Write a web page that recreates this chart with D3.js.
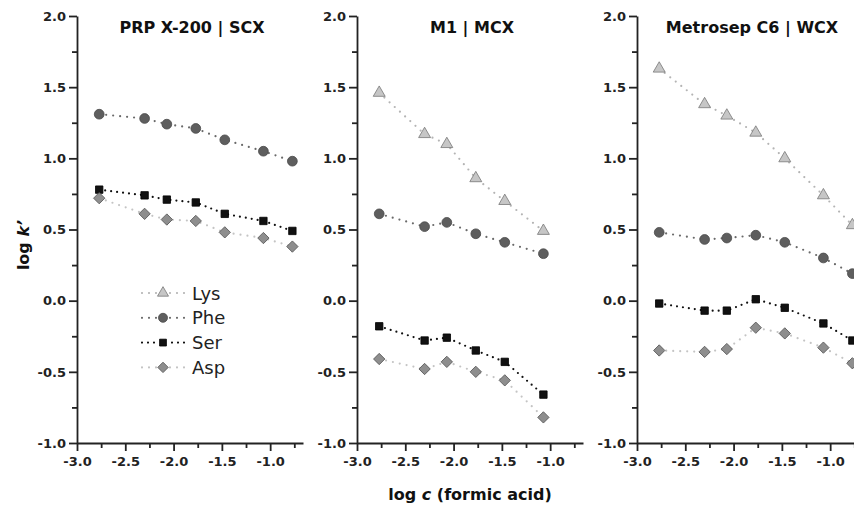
<!DOCTYPE html>
<html>
<head>
<meta charset="utf-8">
<script src="https://cdn.jsdelivr.net/npm/d3@7"></script>
<style>
  body { margin: 0; background: #fff; }
  svg { display: block; font-family: "DejaVu Sans", sans-serif; }
  .axis path, .axis line { stroke: #222; stroke-width: 1.8; }
</style>
</head>
<body>
<div id="chart"></div>
<script>
// DATA
const logC = [-2.77, -2.30, -2.07, -1.77, -1.47, -1.07, -0.77];
const panelTitles = ['PRP X-200 | SCX', 'M1 | MCX', 'Metrosep C6 | WCX'];
const analytes = ['Lys', 'Phe', 'Ser', 'Asp'];
const yTicks = [-1.0, -0.5, 0.0, 0.5, 1.0, 1.5, 2.0];
const xTicks = [-3.0, -2.5, -2.0, -1.5, -1.0];

// PRP X-200 | SCX  (Lys above the plotted range)
const lysSCX = [null, null, null, null, null, null, null];
const pheSCX = [1.31, 1.28, 1.24, 1.21, 1.13, 1.05, 0.98];
const serSCX = [0.78, 0.74, 0.71, 0.69, 0.61, 0.56, 0.49];
const aspSCX = [0.72, 0.61, 0.57, 0.56, 0.48, 0.44, 0.38];

// M1 | MCX
const lysMCX = [1.46, 1.17, 1.10, 0.86, 0.70, 0.49, null];
const pheMCX = [0.61, 0.52, 0.55, 0.47, 0.41, 0.33, null];
const serMCX = [-0.18, -0.28, -0.26, -0.35, -0.43, -0.66, null];
const aspMCX = [-0.41, -0.48, -0.43, -0.50, -0.56, -0.82, null];

// Metrosep C6 | WCX
const lysWCX = [1.63, 1.38, 1.30, 1.18, 1.00, 0.74, 0.53];
const pheWCX = [0.48, 0.43, 0.44, 0.46, 0.41, 0.30, 0.19];
const serWCX = [-0.02, -0.07, -0.07, 0.01, -0.05, -0.16, -0.28];
const aspWCX = [-0.35, -0.36, -0.34, -0.19, -0.23, -0.33, -0.44];

const panelSeries = [
  [lysSCX, pheSCX, serSCX, aspSCX],
  [lysMCX, pheMCX, serMCX, aspMCX],
  [lysWCX, pheWCX, serWCX, aspWCX]
];

// STYLES per analyte
const styles = {
  Lys: {symbol: d3.symbolTriangle, size: 62, rot: 0, fill: '#c6c6c6', stroke: '#777', line: '#b4b4b4', dash: '0,7'},
  Phe: {symbol: d3.symbolCircle, size: 75, rot: 0, fill: '#5e5e5e', stroke: '#4a4a4a', line: '#6a6a6a', dash: '0,7'},
  Ser: {symbol: d3.symbolSquare, size: 55, rot: 0, fill: '#111', stroke: '#000', line: '#111', dash: '0,6'},
  Asp: {symbol: d3.symbolSquare, size: 64, rot: 45, fill: '#8e8e8e', stroke: '#555', line: '#c4c4c4', dash: '0,7'}
};

document.addEventListener('DOMContentLoaded', function(){
  drawChart();
});

function styleTicks(sel) {
  sel.selectAll('text')
    .attr('font-family', '"DejaVu Sans", sans-serif')
    .attr('font-size', 13)
    .attr('font-weight', 'bold')
    .attr('fill', '#222')
    .text(function() { return this.textContent.replace('\u2212', '-'); });
}

function drawChart() {
  const width = 854, height = 508;
  const axisX = [77, 357, 637];
  const top = 16, bottom = 443;
  const plotW = 226;

  const svg = d3.select('#chart').append('svg')
    .attr('width', width)
    .attr('height', height);

  const y = d3.scaleLinear().domain([-1, 2]).range([bottom, top]);

  panelTitles.forEach(function(title, p) {
    const x = d3.scaleLinear().domain([-3, -0.66]).range([axisX[p], axisX[p] + plotW]);
    const g = svg.append('g').classed('panel', true);

    // minor ticks
    g.append('g').attr('class', 'axis')
      .attr('transform', 'translate(' + axisX[p] + ',0)')
      .call(d3.axisLeft(y).tickValues(d3.range(-0.75, 2, 0.5)).tickSize(5).tickFormat(''))
      .select('.domain').remove();
    g.append('g').attr('class', 'axis')
      .attr('transform', 'translate(0,' + bottom + ')')
      .call(d3.axisBottom(x).tickValues([-2.75, -2.25, -1.75, -1.25, -0.75]).tickSize(5).tickFormat(''))
      .select('.domain').remove();

    // major axes
    g.append('g').attr('class', 'axis')
      .attr('transform', 'translate(' + axisX[p] + ',0)')
      .call(d3.axisLeft(y).tickValues(yTicks).tickSize(8).tickSizeOuter(0).tickPadding(3).tickFormat(d3.format('.1f')))
      .call(styleTicks);
    g.append('g').attr('class', 'axis')
      .attr('transform', 'translate(0,' + bottom + ')')
      .call(d3.axisBottom(x).tickValues(xTicks).tickSize(8).tickSizeOuter(0).tickPadding(6).tickFormat(d3.format('.1f')))
      .call(styleTicks);

    // title
    g.append('text')
      .attr('x', axisX[p] + plotW / 2 + 2)
      .attr('y', 33)
      .attr('text-anchor', 'middle')
      .style('font-size', '16px')
      .style('font-weight', 'bold')
      .style('fill', '#111')
      .text(title);

    // series
    const clip = 'clip' + p;
    svg.append('clipPath').attr('id', clip)
      .append('rect').attr('x', axisX[p]).attr('y', 0).attr('width', plotW + 20).attr('height', height);

    analytes.forEach(function(name, s) {
      const vals = panelSeries[p][s];
      const pts = logC.map((c, i) => [c, vals[i]]).filter(d => d[1] !== null);
      if (!pts.length) return;
      const st = styles[name];
      const sg = g.append('g').attr('clip-path', 'url(#' + clip + ')');
      sg.append('path')
        .attr('d', d3.line().x(d => x(d[0])).y(d => y(d[1]))(pts))
        .attr('fill', 'none')
        .attr('stroke', st.line)
        .attr('stroke-width', 2.2)
        .attr('stroke-linecap', 'round')
        .attr('stroke-dasharray', st.dash);
      sg.selectAll('path.pt')
        .data(pts)
        .enter()
        .append('path')
        .attr('class', 'pt')
        .attr('d', d3.symbol().type(st.symbol).size(st.size))
        .attr('transform', d => 'translate(' + x(d[0]) + ',' + y(d[1]) + ') rotate(' + st.rot + ')')
        .attr('fill', st.fill)
        .attr('stroke', st.stroke)
        .attr('stroke-width', 0.8);
    });
  });

  // legend
  const leg = svg.append('g').classed('legend', true);
  analytes.forEach(function(name, i) {
    const st = styles[name];
    const ly = 293 + i * 24.8;
    leg.append('line')
      .attr('x1', 142).attr('x2', 187).attr('y1', ly).attr('y2', ly)
      .attr('stroke', st.line).attr('stroke-width', 2.2)
      .attr('stroke-linecap', 'round')
      .attr('stroke-dasharray', st.dash);
    leg.append('rect').attr('x', 157).attr('y', ly - 6).attr('width', 12).attr('height', 12).attr('fill', '#fff');
    leg.append('path')
      .attr('d', d3.symbol().type(st.symbol).size(st.size * 0.85))
      .attr('transform', 'translate(163,' + ly + ') rotate(' + st.rot + ')')
      .attr('fill', st.fill).attr('stroke', st.stroke).attr('stroke-width', 0.8);
    leg.append('text')
      .attr('x', 192).attr('y', ly + 6.5)
      .style('font-size', '18px')
      .style('fill', '#222')
      .text(name);
  });

  // axis titles
  const yt = svg.append('text')
    .attr('transform', 'translate(29,245) rotate(-90)')
    .attr('text-anchor', 'middle')
    .style('font-size', '16px')
    .style('font-weight', 'bold')
    .style('fill', '#111');
  yt.append('tspan').text('log ');
  yt.append('tspan').style('font-style', 'italic').text('k\u2019');

  const xt = svg.append('text')
    .attr('x', 470).attr('y', 500)
    .attr('text-anchor', 'middle')
    .style('font-size', '16px')
    .style('font-weight', 'bold')
    .style('fill', '#111');
  xt.append('tspan').text('log ');
  xt.append('tspan').style('font-style', 'italic').text('c');
  xt.append('tspan').text(' (formic acid)');
}
</script>
</body>
</html>
